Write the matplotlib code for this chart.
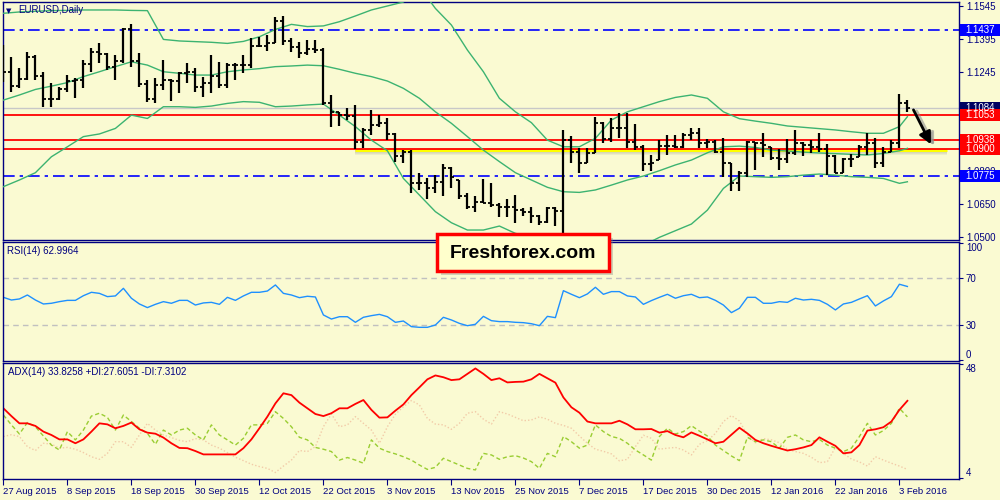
import numpy as np
import matplotlib.pyplot as plt
import matplotlib.transforms as mtransforms
from matplotlib.patches import Rectangle

plt.rcParams['font.family'] = ['Liberation Sans', 'DejaVu Sans']

BG = '#fafad2'
NAVY = '#000080'

# ---------------- datos ----------------
date_labels = ['27 Aug 2015', '8 Sep 2015', '18 Sep 2015', '30 Sep 2015', '12 Oct 2015',
               '22 Oct 2015', '3 Nov 2015', '13 Nov 2015', '25 Nov 2015', '7 Dec 2015',
               '17 Dec 2015', '30 Dec 2015', '12 Jan 2016', '22 Jan 2016', '3 Feb 2016']
date_idx = list(range(0, 113, 8))

opens = [1.1290, 1.1248, 1.1183, 1.1214, 1.1316, 1.1229, 1.1123, 1.1123, 1.1168, 1.1208,
         1.1211, 1.1283, 1.1336, 1.1327, 1.1268, 1.1298, 1.1439, 1.1298, 1.1193, 1.1123,
         1.1188, 1.1211, 1.1208, 1.1244, 1.1248, 1.1177, 1.1197, 1.1229, 1.1188, 1.1278,
         1.1278, 1.1278, 1.1364, 1.1364, 1.1380, 1.1479, 1.1388, 1.1361, 1.1331, 1.1349,
         1.1346, 1.1105, 1.1067, 1.1052, 1.1048, 1.0932, 1.0985, 1.1007, 1.1018, 1.0967,
         1.0867, 1.0887, 1.0744, 1.0747, 1.0721, 1.0751, 1.0811, 1.0758, 1.0687, 1.0638,
         1.0661, 1.0656, 1.0646, 1.0635, 1.0638, 1.0623, 1.0614, 1.0596, 1.0571, 1.0632,
         1.0620, 1.0939, 1.0887, 1.0837, 1.0879, 1.1018, 1.0943, 1.0992, 1.0995, 1.0932,
         1.0909, 1.0831, 1.0850, 1.0912, 1.0912, 1.0909, 1.0962, 1.0970, 1.0924, 1.0932,
         1.0887, 1.0834, 1.0747, 1.0789, 1.0932, 1.0924, 1.0908, 1.0857, 1.0852, 1.0882,
         1.0924, 1.0917, 1.0909, 1.0897, 1.0867, 1.0792, 1.0852, 1.0865, 1.0906, 1.0924,
         1.0834, 1.0887, 1.0924, 1.1105]

highs = [1.1369, 1.1316, 1.1263, 1.1339, 1.1324, 1.1248, 1.1197, 1.1180, 1.1233, 1.1218,
         1.1301, 1.1354, 1.1376, 1.1331, 1.1324, 1.1444, 1.1464, 1.1331, 1.1211, 1.1218,
         1.1301, 1.1214, 1.1248, 1.1286, 1.1263, 1.1226, 1.1324, 1.1293, 1.1286, 1.1286,
         1.1324, 1.1399, 1.1406, 1.1414, 1.1497, 1.1500, 1.1399, 1.1384, 1.1391, 1.1391,
         1.1354, 1.1143, 1.1067, 1.1083, 1.1098, 1.0992, 1.1075, 1.1052, 1.1037, 1.0970,
         1.0894, 1.0894, 1.0789, 1.0766, 1.0781, 1.0830, 1.0819, 1.0759, 1.0699, 1.0687,
         1.0762, 1.0744, 1.0653, 1.0672, 1.0691, 1.0631, 1.0635, 1.0601, 1.0635, 1.0635,
         1.0985, 1.0958, 1.0902, 1.0902, 1.1042, 1.1022, 1.1037, 1.1060, 1.1060, 1.1012,
         1.0917, 1.0872, 1.0939, 1.0962, 1.0962, 1.0970, 1.0995, 1.0992, 1.0943, 1.0939,
         1.0947, 1.0834, 1.0801, 1.0936, 1.0932, 1.0970, 1.0909, 1.0897, 1.0943, 1.0985,
         1.0932, 1.0939, 1.0973, 1.0921, 1.0872, 1.0857, 1.0876, 1.0917, 1.0973, 1.0947,
         1.0909, 1.0939, 1.1146, 1.1120]

lows = [1.1203, 1.1158, 1.1173, 1.1211, 1.1211, 1.1087, 1.1090, 1.1120, 1.1158, 1.1128,
        1.1173, 1.1248, 1.1286, 1.1256, 1.1211, 1.1286, 1.1271, 1.1180, 1.1113, 1.1105,
        1.1165, 1.1116, 1.1150, 1.1197, 1.1158, 1.1135, 1.1150, 1.1173, 1.1173, 1.1211,
        1.1241, 1.1263, 1.1361, 1.1343, 1.1379, 1.1369, 1.1339, 1.1308, 1.1324, 1.1331,
        1.1100, 1.0997, 1.1003, 1.1030, 1.0897, 1.0902, 1.0962, 1.1000, 1.0939, 1.0842,
        1.0834, 1.0702, 1.0714, 1.0672, 1.0699, 1.0687, 1.0721, 1.0672, 1.0626, 1.0616,
        1.0653, 1.0638, 1.0590, 1.0593, 1.0563, 1.0596, 1.0566, 1.0555, 1.0566, 1.0551,
        1.0520, 1.0834, 1.0792, 1.0834, 1.0879, 1.0924, 1.0932, 1.0947, 1.0902, 1.0894,
        1.0801, 1.0801, 1.0849, 1.0872, 1.0902, 1.0902, 1.0939, 1.0902, 1.0902, 1.0879,
        1.0774, 1.0711, 1.0711, 1.0774, 1.0804, 1.0864, 1.0849, 1.0804, 1.0834, 1.0872,
        1.0867, 1.0879, 1.0887, 1.0781, 1.0789, 1.0789, 1.0819, 1.0864, 1.0872, 1.0811,
        1.0819, 1.0887, 1.0905, 1.1067]

closes = [1.1248, 1.1183, 1.1214, 1.1316, 1.1229, 1.1123, 1.1123, 1.1168, 1.1208, 1.1211,
          1.1283, 1.1336, 1.1327, 1.1268, 1.1298, 1.1439, 1.1298, 1.1193, 1.1123, 1.1188,
          1.1211, 1.1208, 1.1244, 1.1248, 1.1177, 1.1197, 1.1229, 1.1188, 1.1278, 1.1278,
          1.1278, 1.1364, 1.1364, 1.1376, 1.1479, 1.1388, 1.1361, 1.1331, 1.1349, 1.1346,
          1.1105, 1.1067, 1.1052, 1.1048, 1.0932, 1.0985, 1.1007, 1.1018, 1.0967, 1.0867,
          1.0887, 1.0744, 1.0747, 1.0721, 1.0751, 1.0811, 1.0774, 1.0687, 1.0638, 1.0661,
          1.0656, 1.0646, 1.0635, 1.0638, 1.0623, 1.0614, 1.0596, 1.0571, 1.0632, 1.0620,
          1.0939, 1.0887, 1.0837, 1.0879, 1.1018, 1.0943, 1.0992, 1.0995, 1.0932, 1.0909,
          1.0831, 1.0834, 1.0912, 1.0912, 1.0909, 1.0962, 1.0970, 1.0924, 1.0932, 1.0887,
          1.0834, 1.0747, 1.0789, 1.0932, 1.0924, 1.0917, 1.0857, 1.0852, 1.0882, 1.0924,
          1.0917, 1.0909, 1.0897, 1.0867, 1.0792, 1.0852, 1.0852, 1.0906, 1.0924, 1.0834,
          1.0887, 1.0924, 1.1105, 1.1084]

# Bandas de Bollinger, leidas cada 2 velas
bb_idx = list(range(0, 113, 2)) + [113]
bb_upper = [1.1512, 1.1518, 1.1521, 1.1524, 1.1525, 1.1527, 1.1527, 1.1527, 1.1525, 1.1524,
            1.1394, 1.1387, 1.1384, 1.1381, 1.1376, 1.1385, 1.1406, 1.1439, 1.1462, 1.1452,
            1.1455, 1.1474, 1.1500, 1.1527, 1.1545, 1.1563, 1.1632, 1.1534, 1.1459, 1.1346,
            1.1248, 1.1128, 1.1067, 1.1018, 1.0939, 1.0909, 1.0909, 1.0947, 1.1030, 1.1067,
            1.1090, 1.1113, 1.1132, 1.1143, 1.1128, 1.1067, 1.1036, 1.1025, 1.1015, 1.1003,
            1.0997, 1.0991, 1.0985, 1.0977, 1.0970, 1.0970, 1.1000, 1.1045]
bb_middle = [1.1120, 1.1143, 1.1168, 1.1183, 1.1199, 1.1226, 1.1248, 1.1271, 1.1293, 1.1278,
             1.1248, 1.1241, 1.1233, 1.1233, 1.1248, 1.1256, 1.1262, 1.1271, 1.1274, 1.1278,
             1.1275, 1.1259, 1.1241, 1.1226, 1.1206, 1.1173, 1.1128, 1.1067, 1.1015, 1.0955,
             1.0894, 1.0842, 1.0792, 1.0759, 1.0726, 1.0706, 1.0703, 1.0714, 1.0736, 1.0759,
             1.0777, 1.0801, 1.0827, 1.0849, 1.0882, 1.0909, 1.0912, 1.0906, 1.0894, 1.0890,
             1.0885, 1.0881, 1.0878, 1.0875, 1.0872, 1.0879, 1.0891, 1.0902]
bb_lower = [1.0729, 1.0759, 1.0792, 1.0864, 1.0909, 1.0955, 1.0967, 1.0992, 1.1052, 1.1037,
            1.1090, 1.1090, 1.1087, 1.1093, 1.1105, 1.1113, 1.1110, 1.1090, 1.1093, 1.1098,
            1.1102, 1.1052, 1.1000, 1.0939, 1.0891, 1.0766, 1.0691, 1.0616, 1.0566, 1.0533,
            1.0533, 1.0551, 1.0518, 1.0500, 1.0513, 1.0503, 1.0497, 1.0481, 1.0442, 1.0451,
            1.0464, 1.0500, 1.0530, 1.0560, 1.0623, 1.0721, 1.0777, 1.0774, 1.0771, 1.0774,
            1.0781, 1.0786, 1.0781, 1.0774, 1.0771, 1.0766, 1.0744, 1.0751]

rsi = [53.7, 51.4, 52.3, 55.7, 51.4, 48.0, 48.6, 50.0, 51.1, 51.1,
       55.1, 58.0, 57.1, 54.3, 54.9, 61.4, 52.9, 48.0, 44.9, 47.7,
       50.0, 48.6, 51.1, 51.1, 47.1, 48.9, 49.4, 47.7, 53.7, 51.1,
       54.9, 58.0, 58.0, 59.1, 64.3, 57.1, 55.7, 53.4, 54.6, 54.0,
       38.6, 35.1, 37.1, 37.1, 32.3, 36.6, 38.0, 39.1, 37.1, 32.3,
       33.4, 28.6, 28.0, 28.0, 30.0, 36.6, 34.3, 31.4, 29.4, 30.6,
       37.4, 33.7, 32.9, 32.9, 32.3, 32.0, 31.1, 29.4, 37.4, 36.3,
       59.4, 56.3, 53.4, 56.6, 62.3, 56.3, 58.6, 58.6, 54.9, 54.0,
       47.7, 50.9, 53.7, 56.3, 52.9, 55.1, 56.3, 53.4, 54.0, 51.1,
       47.1, 40.6, 44.3, 53.7, 53.7, 48.6, 48.6, 50.0, 49.4, 52.9,
       51.4, 52.0, 51.1, 47.7, 42.9, 48.0, 49.4, 52.3, 55.1, 46.3,
       50.6, 54.3, 64.9, 63.0]

adx = [30.9, 27.9, 25.1, 25.1, 24.1, 21.9, 20.6, 18.9, 18.9, 17.4,
       18.9, 21.9, 25.1, 24.7, 23.2, 24.1, 25.4, 22.8, 21.5, 21.1,
       19.6, 17.4, 15.6, 15.5, 14.4, 13.1, 13.1, 13.1, 13.1, 13.1,
       15.5, 18.9, 23.2, 27.7, 32.8, 36.7, 36.0, 33.1, 30.9, 28.7,
       27.9, 29.0, 30.9, 30.9, 32.6, 34.1, 30.3, 27.3, 27.4, 30.0,
       32.4, 36.0, 39.0, 42.1, 43.6, 42.9, 41.8, 42.1, 44.2, 46.3,
       44.2, 41.8, 42.5, 40.9, 41.1, 41.2, 42.1, 44.2, 42.5, 40.8,
       35.1, 31.3, 29.2, 25.8, 25.1, 25.1, 25.1, 26.1, 24.7, 22.8,
       22.8, 22.9, 21.5, 22.1, 20.6, 19.7, 21.6, 20.3, 18.9, 17.4,
       18.0, 20.7, 23.4, 21.2, 18.7, 17.4, 16.4, 15.5, 14.6, 15.1,
       15.8, 16.7, 19.7, 18.0, 16.4, 13.5, 13.9, 16.7, 22.3, 22.8,
       23.6, 25.8, 30.3, 33.8]

plus_di = [28.3, 24.5, 21.0, 25.4, 23.8, 20.2, 16.7, 14.8, 21.9, 18.7,
           22.5, 27.9, 29.0, 27.4, 22.5, 28.3, 25.8, 23.2, 21.2, 17.0,
           22.5, 20.6, 22.5, 23.2, 20.6, 18.7, 24.5, 20.6, 18.7, 16.7,
           19.3, 24.5, 24.5, 25.1, 29.6, 27.0, 23.8, 19.7, 18.7, 15.8,
           15.1, 14.2, 10.9, 11.9, 10.9, 9.7, 18.7, 15.5, 14.2, 13.3,
           12.2, 10.9, 9.0, 7.3, 8.1, 11.6, 10.3, 9.0, 7.7, 7.1,
           13.5, 12.9, 11.2, 12.2, 12.6, 11.7, 10.3, 7.7, 13.5, 12.2,
           20.0, 18.0, 15.5, 16.7, 24.5, 21.9, 20.0, 19.3, 17.4, 14.8,
           12.9, 10.9, 20.0, 23.2, 21.0, 21.9, 24.2, 22.1, 20.2, 16.7,
           14.6, 12.5, 10.7, 19.7, 18.0, 18.7, 18.0, 15.5, 19.7, 20.6,
           18.7, 18.0, 18.9, 16.7, 15.5, 14.2, 15.5, 20.0, 25.1, 20.6,
           22.3, 25.1, 30.9, 27.6]

minus_di = [20.0, 20.7, 20.0, 16.1, 14.6, 17.4, 17.1, 15.5, 15.8, 15.1,
            13.8, 12.2, 11.2, 13.5, 18.0, 18.0, 15.8, 20.6, 25.1, 22.5,
            20.6, 19.6, 18.5, 18.0, 19.2, 18.7, 16.7, 15.5, 13.8, 12.0,
            10.7, 9.3, 8.4, 7.7, 6.1, 8.6, 10.9, 14.6, 14.2, 16.1,
            23.8, 28.7, 23.8, 24.5, 27.7, 25.1, 22.5, 17.4, 23.8, 28.6,
            31.5, 33.9, 32.2, 27.0, 24.8, 24.5, 22.8, 25.1, 29.0, 29.6,
            26.7, 24.8, 29.6, 28.7, 27.4, 26.1, 26.4, 27.6, 26.7, 25.1,
            24.3, 23.2, 20.2, 17.4, 15.1, 14.3, 13.3, 10.6, 11.2, 16.1,
            20.5, 19.3, 15.1, 15.5, 15.8, 14.8, 12.9, 17.0, 18.4, 21.2,
            25.8, 28.1, 26.0, 20.6, 17.6, 19.2, 18.7, 17.6, 15.1, 14.2,
            13.5, 12.0, 9.9, 10.3, 15.8, 13.5, 11.3, 10.2, 8.6, 12.2,
            10.9, 9.7, 8.6, 7.3]

red_levels = [1.1053, 1.0938, 1.0900]
blue_levels = [1.1437, 1.0775]
last_price = 1.1084
price_ticks = [1.0500, 1.0650, 1.0800, 1.0950, 1.1095, 1.1245, 1.1395, 1.1545]
# 1.1095 y 1.0950 quedan tapadas por las etiquetas de nivel
price_tick_labels = ['1.0500', '1.0650', '1.0800', '', '', '1.1245', '1.1395', '1.1545']

# ---------------- figura ----------------
W, H = 1000, 500
fig = plt.figure(figsize=(10, 5), dpi=100, facecolor=BG)


def caja(l, t, r, b):
    return [l / W, 1 - b / H, (r - l) / W, (b - t) / H]


ax = fig.add_axes(caja(3, 2, 959, 240))
ax_rsi = fig.add_axes(caja(3, 242, 959, 361))
ax_adx = fig.add_axes(caja(3, 363, 959, 479))

for a in (ax, ax_rsi, ax_adx):
    a.set_facecolor(BG)
    a.set_xlim(-0.05, 119.45)
    for s in a.spines.values():
        s.set_color(NAVY)
        s.set_linewidth(1)
    a.yaxis.tick_right()
    a.tick_params(axis='y', colors=NAVY, labelcolor=NAVY, labelsize=7,
                  length=3, width=0.8, pad=2)
    a.set_xticks([])

# ---- panel de precio ----
x = np.arange(len(closes))
ax.set_ylim(1.0488, 1.1563)
ax.set_yticks(price_ticks)
ax.set_yticklabels(price_tick_labels)

ax.axhline(last_price, color='#c8c8c8', lw=1, zorder=1)
for lv in blue_levels:
    ax.axhline(lv, color='#0000ff', lw=1.2, ls=(0, (7, 3, 2, 3)), zorder=2)

# sombra y resaltado amarillo de 1.0900
for k in range(5):
    ax.fill_between([44, 118], 1.0900 - 0.0006 - 0.0006 * k, 1.0900,
                    color='#808080', alpha=0.10, lw=0, zorder=1.5)
ax.plot([44, 118], [1.0896, 1.0896], color='#ffff00', lw=2.2, zorder=2, solid_capstyle='butt')

for lv in red_levels:
    ax.axhline(lv, color='#ff0000', lw=1.3, zorder=2.2)

for band in (bb_upper, bb_middle, bb_lower):
    ax.plot(bb_idx, band, color='#3cb371', lw=1.0, zorder=3)

ax.vlines(x, lows, highs, color='black', lw=1.6, zorder=4)
ax.hlines(opens, x - 0.38, x, color='black', lw=1.3, zorder=4)
ax.hlines(closes, x, x + 0.38, color='black', lw=1.3, zorder=4)

# flecha
ax.annotate('', xy=(116.5, 1.0903), xytext=(114.0, 1.1081),
            arrowprops=dict(arrowstyle='-|>', color='#909090', lw=2.2, mutation_scale=18, alpha=0.6),
            zorder=5)
ax.annotate('', xy=(116.1, 1.0909), xytext=(113.6, 1.1087),
            arrowprops=dict(arrowstyle='-|>', color='black', lw=2.0, mutation_scale=18),
            zorder=6)

# etiquetas de precio a la derecha
tr = mtransforms.blended_transform_factory(fig.transFigure, ax.transData)
alto = 12 * (1.1563 - 1.0488) / 238.0
tags = [(1.1437, '1.1437', '#0000ff'), (last_price, '1.1084', '#000060'),
        (1.1053, '1.1053', '#ff0000'), (1.0938, '1.0938', '#ff0000'),
        (1.0900, '1.0900', '#ff0000'), (1.0775, '1.0775', '#0000ff')]
for val, txt, col in tags:
    ax.add_patch(Rectangle((960 / W, val - alto / 2), 40 / W, alto, transform=tr,
                           facecolor=col, edgecolor='none', clip_on=False, zorder=8))
    ax.text(980 / W, val, txt, transform=tr, ha='center', va='center', color='white',
            fontsize=7, clip_on=False, zorder=9)

fig.text(6 / W, 1 - 11 / H, '\u25bc', fontsize=5, color=NAVY, va='center', ha='left',
         family=['DejaVu Sans'])
fig.text(18 / W, 1 - 10 / H, 'EURUSD,Daily', fontsize=7, color=NAVY, va='center', ha='left')

# ---- RSI ----
ax_rsi.set_ylim(-0.85, 101.1)
for lv in (30, 70):
    ax_rsi.axhline(lv, color='#c0c0c0', lw=1, ls=(0, (4, 3)))
ax_rsi.plot(x, rsi, color='#1e90ff', lw=1.0)
ax_rsi.set_yticks([0, 30, 70, 100])
ax_rsi.set_yticklabels(['0', '30', '70', '100'])
for t in ax_rsi.yaxis.get_major_ticks():
    if t.label2.get_text() == '100':
        t.label2.set_va('top')
    elif t.label2.get_text() == '0':
        t.label2.set_va('bottom')
fig.text(7 / W, 1 - 251 / H, 'RSI(14) 62.9964', fontsize=7, color=NAVY, va='center', ha='left')

# ---- ADX ----
ax_adx.set_ylim(3.6, 48.4)
ax_adx.plot(x, minus_di, color='#f2cba8', lw=1.0, ls=(0, (1, 1.5)))
ax_adx.plot(x, plus_di, color='#9acd32', lw=1.0, ls=(0, (3, 2)))
ax_adx.plot(x, adx, color='#ff0000', lw=1.3)
ax_adx.set_yticks([4, 48])
ax_adx.set_yticklabels(['4', '48'])
for t in ax_adx.yaxis.get_major_ticks():
    if t.label2.get_text() == '48':
        t.label2.set_va('top')
    else:
        t.label2.set_va('bottom')
ax_adx.set_xticks(date_idx)
ax_adx.set_xticklabels(date_labels, ha='left')
ax_adx.tick_params(axis='x', colors=NAVY, labelcolor=NAVY, labelsize=6.8,
                   length=4, width=0.8, pad=2, direction='out')
fig.text(8 / W, 1 - 372 / H, 'ADX(14) 33.8258 +DI:27.6051 -DI:7.3102', fontsize=7,
         color=NAVY, va='center', ha='left')

# ---- logo ----
fig.add_artist(Rectangle((441 / W, 1 - 275 / H), 172 / W, 37 / H, transform=fig.transFigure,
                         facecolor='#808080', alpha=0.35, edgecolor='none', zorder=10))
fig.add_artist(Rectangle((437 / W, 1 - 271 / H), 172 / W, 37 / H, transform=fig.transFigure,
                         facecolor='#ffffcc', edgecolor='#ff0000', lw=2.5, zorder=11))
fig.text(523 / W, 1 - 253 / H, 'Freshforex.com', fontsize=14, fontweight='bold',
         color='black', ha='center', va='center', zorder=12)

fig.savefig('out.png', dpi=100, facecolor=BG)
